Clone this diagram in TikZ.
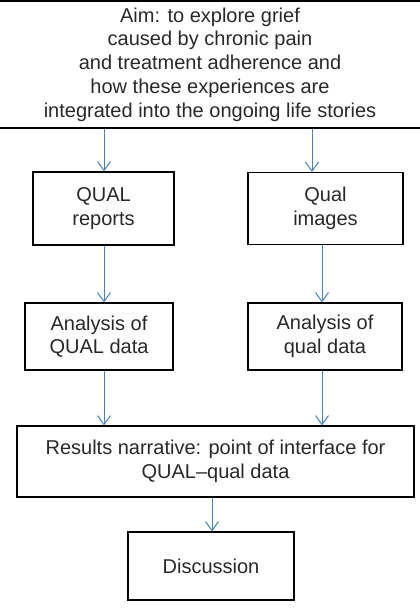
\documentclass[tikz,border=0pt]{standalone}
\usepackage{fontspec}
\setmainfont{Liberation Sans}
\usetikzlibrary{arrows.meta}
\definecolor{arrowblue}{RGB}{70,130,190}
\definecolor{textgray}{RGB}{40,40,40}
\begin{document}
\begin{tikzpicture}[x=1pt,y=-1pt,
  box/.style={draw=black, line width=1.2pt, inner sep=0pt, align=center,
    text=textgray, font=\fontsize{20}{23.7}\selectfont},
  flow/.style={draw=arrowblue, line width=1pt,
    -{Straight Barb[length=9pt,width=13pt]}}]
\useasboundingbox (0,0) rectangle (420,608);
\node[box, minimum width=432pt, minimum height=127pt] (aim) at (210,64.5)
  {Aim: to explore grief\\caused by chronic pain\\and treatment adherence and\\how these experiences are\\integrated into the ongoing life stories};
\node[box, minimum width=141pt, minimum height=73pt] (qr) at (103.5,208.5) {QUAL\\reports};
\node[box, minimum width=155pt, minimum height=72pt] (qi) at (325.5,208.5) {Qual\\images};
\node[box, minimum width=148pt, minimum height=67pt] (aql) at (99,336.5) {Analysis of\\QUAL data};
\node[box, minimum width=154pt, minimum height=67pt] (aqi) at (325,336.5) {Analysis of\\qual data};
\node[box, minimum width=397pt, minimum height=71pt] (res) at (215.5,461.5) {Results narrative: point of interface for\\QUAL--qual data};
\node[box, minimum width=166pt, minimum height=68pt] (disc) at (211,566) {Discussion};
\coordinate (xl) at (104,0);
\coordinate (xr1) at (312,0);
\coordinate (xr2) at (322,0);
\coordinate (xm) at (212,0);
\draw[flow] (aim.south -| xl) -- (qr.north -| xl);
\draw[flow] (aim.south -| xr1) -- (qi.north -| xr1);
\draw[flow] (qr.south -| xl) -- (aql.north -| xl);
\draw[flow] (qi.south -| xr2) -- (aqi.north -| xr2);
\draw[flow] (aql.south -| xl) -- (res.north -| xl);
\draw[flow] (aqi.south -| xr2) -- (res.north -| xr2);
\draw[flow] (res.south -| xm) -- (disc.north -| xm);
\end{tikzpicture}
\end{document}
